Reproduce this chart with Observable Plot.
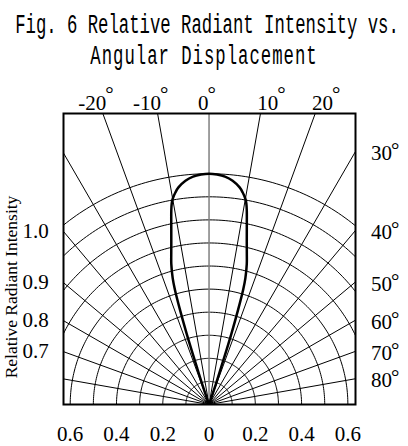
<!DOCTYPE html>
<html>
<head>
<meta charset="utf-8">
<script src="https://cdn.jsdelivr.net/npm/d3@7"></script>
<script src="https://cdn.jsdelivr.net/npm/@observablehq/plot@0.6"></script>
<style>
  html, body { margin: 0; padding: 0; background: #fff; }
  #title { position: relative; width: 408px; height: 72px; font-family: 'Liberation Mono', 'DejaVu Sans Mono', monospace; font-size: 17.3px; color: #000; }
  #title .t { position: absolute; left: 0; width: 408px; text-align: center; line-height: 17.3px; white-space: pre; transform: scaleY(1.58); transform-origin: 50% 0; }
  #chart svg { display: block; }
</style>
</head>
<body>
<div id="title">
  <div class="t" style="top:12px;left:3px">Fig. 6 Relative Radiant Intensity vs.</div>
  <div class="t" style="top:43px;letter-spacing:1px">Angular Displacement</div>
</div>
<div id="chart"></div>
<script>
// ---- data ----
const patternAngles    = [0, 2, 4, 6, 8, 9, 10, 10.5, 11, 12, 13, 14, 15, 16, 16.5, 17, 17.5, 18, 18.5, 19];
const patternIntensity = [1.0, 0.997, 0.99, 0.975, 0.95, 0.93, 0.905, 0.885, 0.855, 0.785, 0.725, 0.675, 0.63, 0.57, 0.52, 0.43, 0.32, 0.17, 0.09, 0];
const arcRadii = [0.1, 0.2, 0.3, 0.4, 0.5, 0.6, 0.7, 0.8, 0.9, 1.0];
const radialAngles = [-80, -70, -60, -50, -40, -30, -20, -10, 10, 20, 30, 40, 50, 60, 70, 80];
const topAngles = [-20, -10, 0, 10, 20];
const sideAngles = [30, 40, 50, 60, 70, 80];
const intensityLabels = ["1.0", "0.9", "0.8", "0.7"];
const intensityLabelAngles = [40, 50, 60, 70];
const xTickValues = [-0.6, -0.4, -0.2, 0, 0.2, 0.4, 0.6];
const xTickLabels = ["0.6", "0.4", "0.2", "0", "0.2", "0.4", "0.6"];
const yTitle = "Relative Radiant Intensity";

const xDomain = [-0.629, 0.633];
const yDomain = [0, 1.261];
const rad = d => d * Math.PI / 180;

// polar -> cartesian tables
const pattern = [];
for (let i = patternAngles.length - 1; i >= 0; i--) pattern.push({a: -patternAngles[i], r: patternIntensity[i]});
for (let i = 1; i < patternAngles.length; i++) pattern.push({a: patternAngles[i], r: patternIntensity[i]});
pattern.forEach(p => { p.x = p.r * Math.sin(rad(p.a)); p.y = p.r * Math.cos(rad(p.a)); });

const arcs = [];
for (const r of arcRadii) for (let a = -90; a <= 90; a += 1) arcs.push({r, x: r * Math.sin(rad(a)), y: r * Math.cos(rad(a))});

const radials = radialAngles.map(a => ({a, x2: 2 * Math.sin(rad(a)), y2: 2 * Math.cos(rad(a))}));

const yTop = yDomain[1];
const topLab = topAngles.map(a => ({a, x: yTop * Math.tan(rad(a)), y: yTop, text: `${a}°`}));
const sideLab = sideAngles.map(a => ({a, x: xDomain[1], y: xDomain[1] / Math.tan(rad(a)), text: `${a}°`}));
const leftLab = intensityLabels.map((t, i) => ({text: t, x: xDomain[0], y: -xDomain[0] / Math.tan(rad(intensityLabelAngles[i]))}));
const bottomLab = xTickValues.map((v, i) => ({x: v, y: 0, text: xTickLabels[i]}));

const chart = Plot.plot({
  width: 408,
  height: 374,
  marginTop: 41,
  marginBottom: 42,
  marginLeft: 63,
  marginRight: 53,
  x: {domain: xDomain, axis: null},
  y: {domain: yDomain, axis: null},
  style: {fontFamily: "'Liberation Serif', 'Times New Roman', serif", fontSize: "21px", background: "white", color: "black", overflow: "visible"},
  marks: [
    Plot.line(arcs, {x: "x", y: "y", z: "r", stroke: "black", strokeWidth: 1, clip: true}),
    Plot.link(radials, {x1: 0, y1: 0, x2: "x2", y2: "y2", stroke: "black", strokeWidth: 1, clip: true}),
    Plot.link([0], {x1: 0, y1: 0, x2: 0, y2: yTop, stroke: "#808080", strokeWidth: 1.5, clip: true}),
    Plot.line(pattern, {x: "x", y: "y", curve: "catmull-rom", stroke: "black", strokeWidth: 2.5, clip: true}),
    Plot.frame({stroke: "black", strokeWidth: 2}),
    Plot.text(topLab.filter(d => d.a < 0), {x: "x", y: "y", text: "text", dx: -7, dy: -10.5}),
    Plot.text(topLab.filter(d => d.a === 0), {x: "x", y: "y", text: "text", dx: -2, dy: -10.5}),
    Plot.text(topLab.filter(d => d.a > 0), {x: "x", y: "y", text: "text", dx: 11, dy: -10.5}),
    Plot.text(sideLab, {x: "x", y: "y", text: "text", textAnchor: "start", dx: 15.5, dy: 2}),
    Plot.text(leftLab, {x: "x", y: "y", text: "text", textAnchor: "end", dx: -14.7}),
    Plot.text(bottomLab, {x: "x", y: "y", text: "text", dy: 30}),
    Plot.text([yTitle], {frameAnchor: "left", text: d => d, rotate: -90, textAnchor: "middle", lineAnchor: "middle", dx: -52, dy: 28, fontSize: 17.5})
  ]
});

// raise degree signs as superscripts
d3.select(chart).selectAll("text").each(function() {
  const t = this.textContent;
  if (!t.endsWith("°")) return;
  const g = this.closest("g");
  const isSide = g && g.getAttribute("text-anchor") === "start";
  this.textContent = t.slice(0, -1);
  const ts = document.createElementNS("http://www.w3.org/2000/svg", "tspan");
  ts.setAttribute("dy", isSide ? "-3" : "-9");
  ts.setAttribute("dx", "-1");
  ts.textContent = "°";
  this.appendChild(ts);
});

document.getElementById("chart").appendChild(chart);
</script>
</body>
</html>
